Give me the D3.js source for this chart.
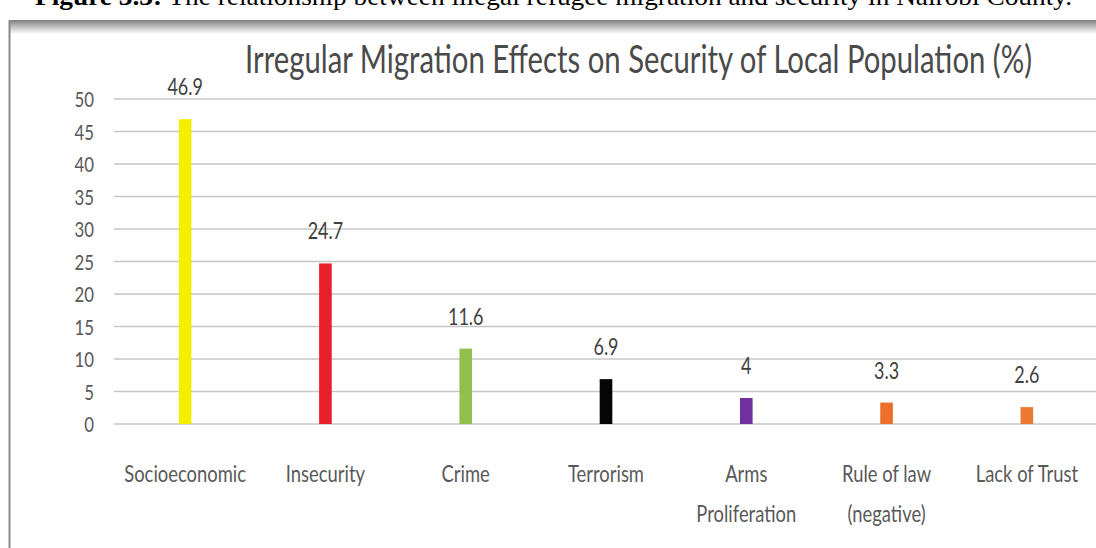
<!DOCTYPE html>
<html>
<head>
<meta charset="utf-8">
<script src="https://cdn.jsdelivr.net/npm/d3@7"></script>
<style>
  html, body { margin: 0; padding: 0; background: #fff; }
  svg { display: block; }
</style>
</head>
<body>
<svg id="chart" width="1096" height="548"></svg>
<script>
// Categories and their share of respondents (%)
const categories = ["Socioeconomic", "Insecurity", "Crime", "Terrorism", "Arms Proliferation", "Rule of law (negative)", "Lack of Trust"];
const categoryLines = [["Socioeconomic"], ["Insecurity"], ["Crime"], ["Terrorism"], ["Arms", "Proliferation"], ["Rule of law", "(negative)"], ["Lack of Trust"]];
const values = [46.9, 24.7, 11.6, 6.9, 4, 3.3, 2.6];
const valueLabels = ["46.9", "24.7", "11.6", "6.9", "4", "3.3", "2.6"];
const barColors = ["#f2ef00", "#e8202a", "#92c04e", "#050505", "#7030a0", "#ec6f2a", "#ec7a33"];
const yTicks = [0, 5, 10, 15, 20, 25, 30, 35, 40, 45, 50];
const chartTitle = "Irregular Migration Effects on Security of Local Population (%)";
const captionBold = "Figure 3.3:";
const captionText = " The relationship between illegal refugee migration and security in Nairobi County.";

const svg = d3.select("#chart");
const W = 1096, H = 548;
const CONDENSE = 0.8;   // narrow-face look for the sans text
const textGray = "#595959";

// squeeze a text element horizontally to a fraction of its natural width
function condense(sel, f) {
  sel.each(function () {
    const len = this.getComputedTextLength();
    d3.select(this).attr("textLength", len * f).attr("lengthAdjust", "spacingAndGlyphs");
  });
}

// page background
svg.append("rect").attr("width", W).attr("height", H).attr("fill", "#ffffff");

// figure caption above the frame (runs off the top of the page)
const cap = svg.append("text")
  .attr("x", 35).attr("y", 5)
  .attr("font-family", "Liberation Serif, Times New Roman, serif")
  .attr("font-size", 25)
  .attr("fill", "#000");
cap.append("tspan").attr("font-weight", "bold").text(captionBold);
cap.append("tspan").text(captionText);
cap.attr("textLength", 1037).attr("lengthAdjust", "spacingAndGlyphs");

// frame around the chart object
const defs = svg.append("defs");
const g1 = defs.append("linearGradient").attr("id", "topShade").attr("x1", 0).attr("x2", 0).attr("y1", 0).attr("y2", 1);
g1.append("stop").attr("offset", 0).attr("stop-color", "#7d7d7d");
g1.append("stop").attr("offset", 0.3).attr("stop-color", "#a8a8a8");
g1.append("stop").attr("offset", 1).attr("stop-color", "#ffffff");
svg.append("rect").attr("x", 9).attr("y", 20).attr("width", W - 9).attr("height", 14).attr("fill", "url(#topShade)");
svg.append("line").attr("x1", 9.5).attr("x2", 9.5).attr("y1", 20).attr("y2", H)
  .attr("stroke", "#8a8a8a").attr("stroke-width", 2);

// scales
const y = d3.scaleLinear().domain([0, 50]).range([424, 99]);
const x = d3.scaleBand().domain(categories).range([115, 1097]).paddingInner(0.91).paddingOuter(0.455);

// horizontal gridlines
svg.append("g").selectAll("line").data(yTicks).join("line")
  .attr("x1", 114).attr("x2", W)
  .attr("y1", d => y(d)).attr("y2", d => y(d))
  .attr("stroke", "#c6c6c6").attr("stroke-width", 1.6);

// y axis labels
const yAxis = svg.append("g")
  .attr("transform", "translate(94,0)")
  .call(d3.axisLeft(y).tickValues(yTicks).tickSize(0).tickPadding(0));
yAxis.select(".domain").remove();
yAxis.selectAll("text")
  .attr("font-family", "Lato, Open Sans, sans-serif")
  .attr("font-size", 21)
  .attr("fill", textGray)
  .attr("dy", "0.36em")
  .call(condense, CONDENSE);

// bars
svg.append("g").selectAll("rect").data(values).join("rect")
  .attr("x", (d, i) => x(categories[i]))
  .attr("width", x.bandwidth())
  .attr("y", d => y(d))
  .attr("height", d => y(0) - y(d))
  .attr("fill", (d, i) => barColors[i]);

// value labels above bars
svg.append("g").selectAll("text").data(values).join("text")
  .attr("x", (d, i) => x(categories[i]) + x.bandwidth() / 2)
  .attr("y", d => y(d) - 24)
  .attr("text-anchor", "middle")
  .attr("font-family", "Lato, Open Sans, sans-serif")
  .attr("font-size", 23)
  .attr("fill", "#404040")
  .text((d, i) => valueLabels[i])
  .call(condense, 0.78);

// category labels
const xl = svg.append("g").selectAll("text").data(categories).join("text")
  .attr("text-anchor", "middle")
  .attr("font-family", "Lato, Open Sans, sans-serif")
  .attr("font-size", 23)
  .attr("fill", textGray);
xl.each(function (c, i) {
  const t = d3.select(this);
  categoryLines[i].forEach((line, k) => {
    t.append("tspan")
      .attr("x", x(c) + x.bandwidth() / 2)
      .attr("y", 482 + k * 40)
      .text(line);
  });
});
xl.selectAll("tspan").call(condense, CONDENSE);

// chart title
svg.append("text")
  .attr("x", 245).attr("y", 73)
  .attr("font-family", "Lato, Open Sans, sans-serif")
  .attr("font-size", 38)
  .attr("fill", "#4a4a4a")
  .text(chartTitle)
  .attr("textLength", 787).attr("lengthAdjust", "spacingAndGlyphs");
</script>
</body>
</html>
